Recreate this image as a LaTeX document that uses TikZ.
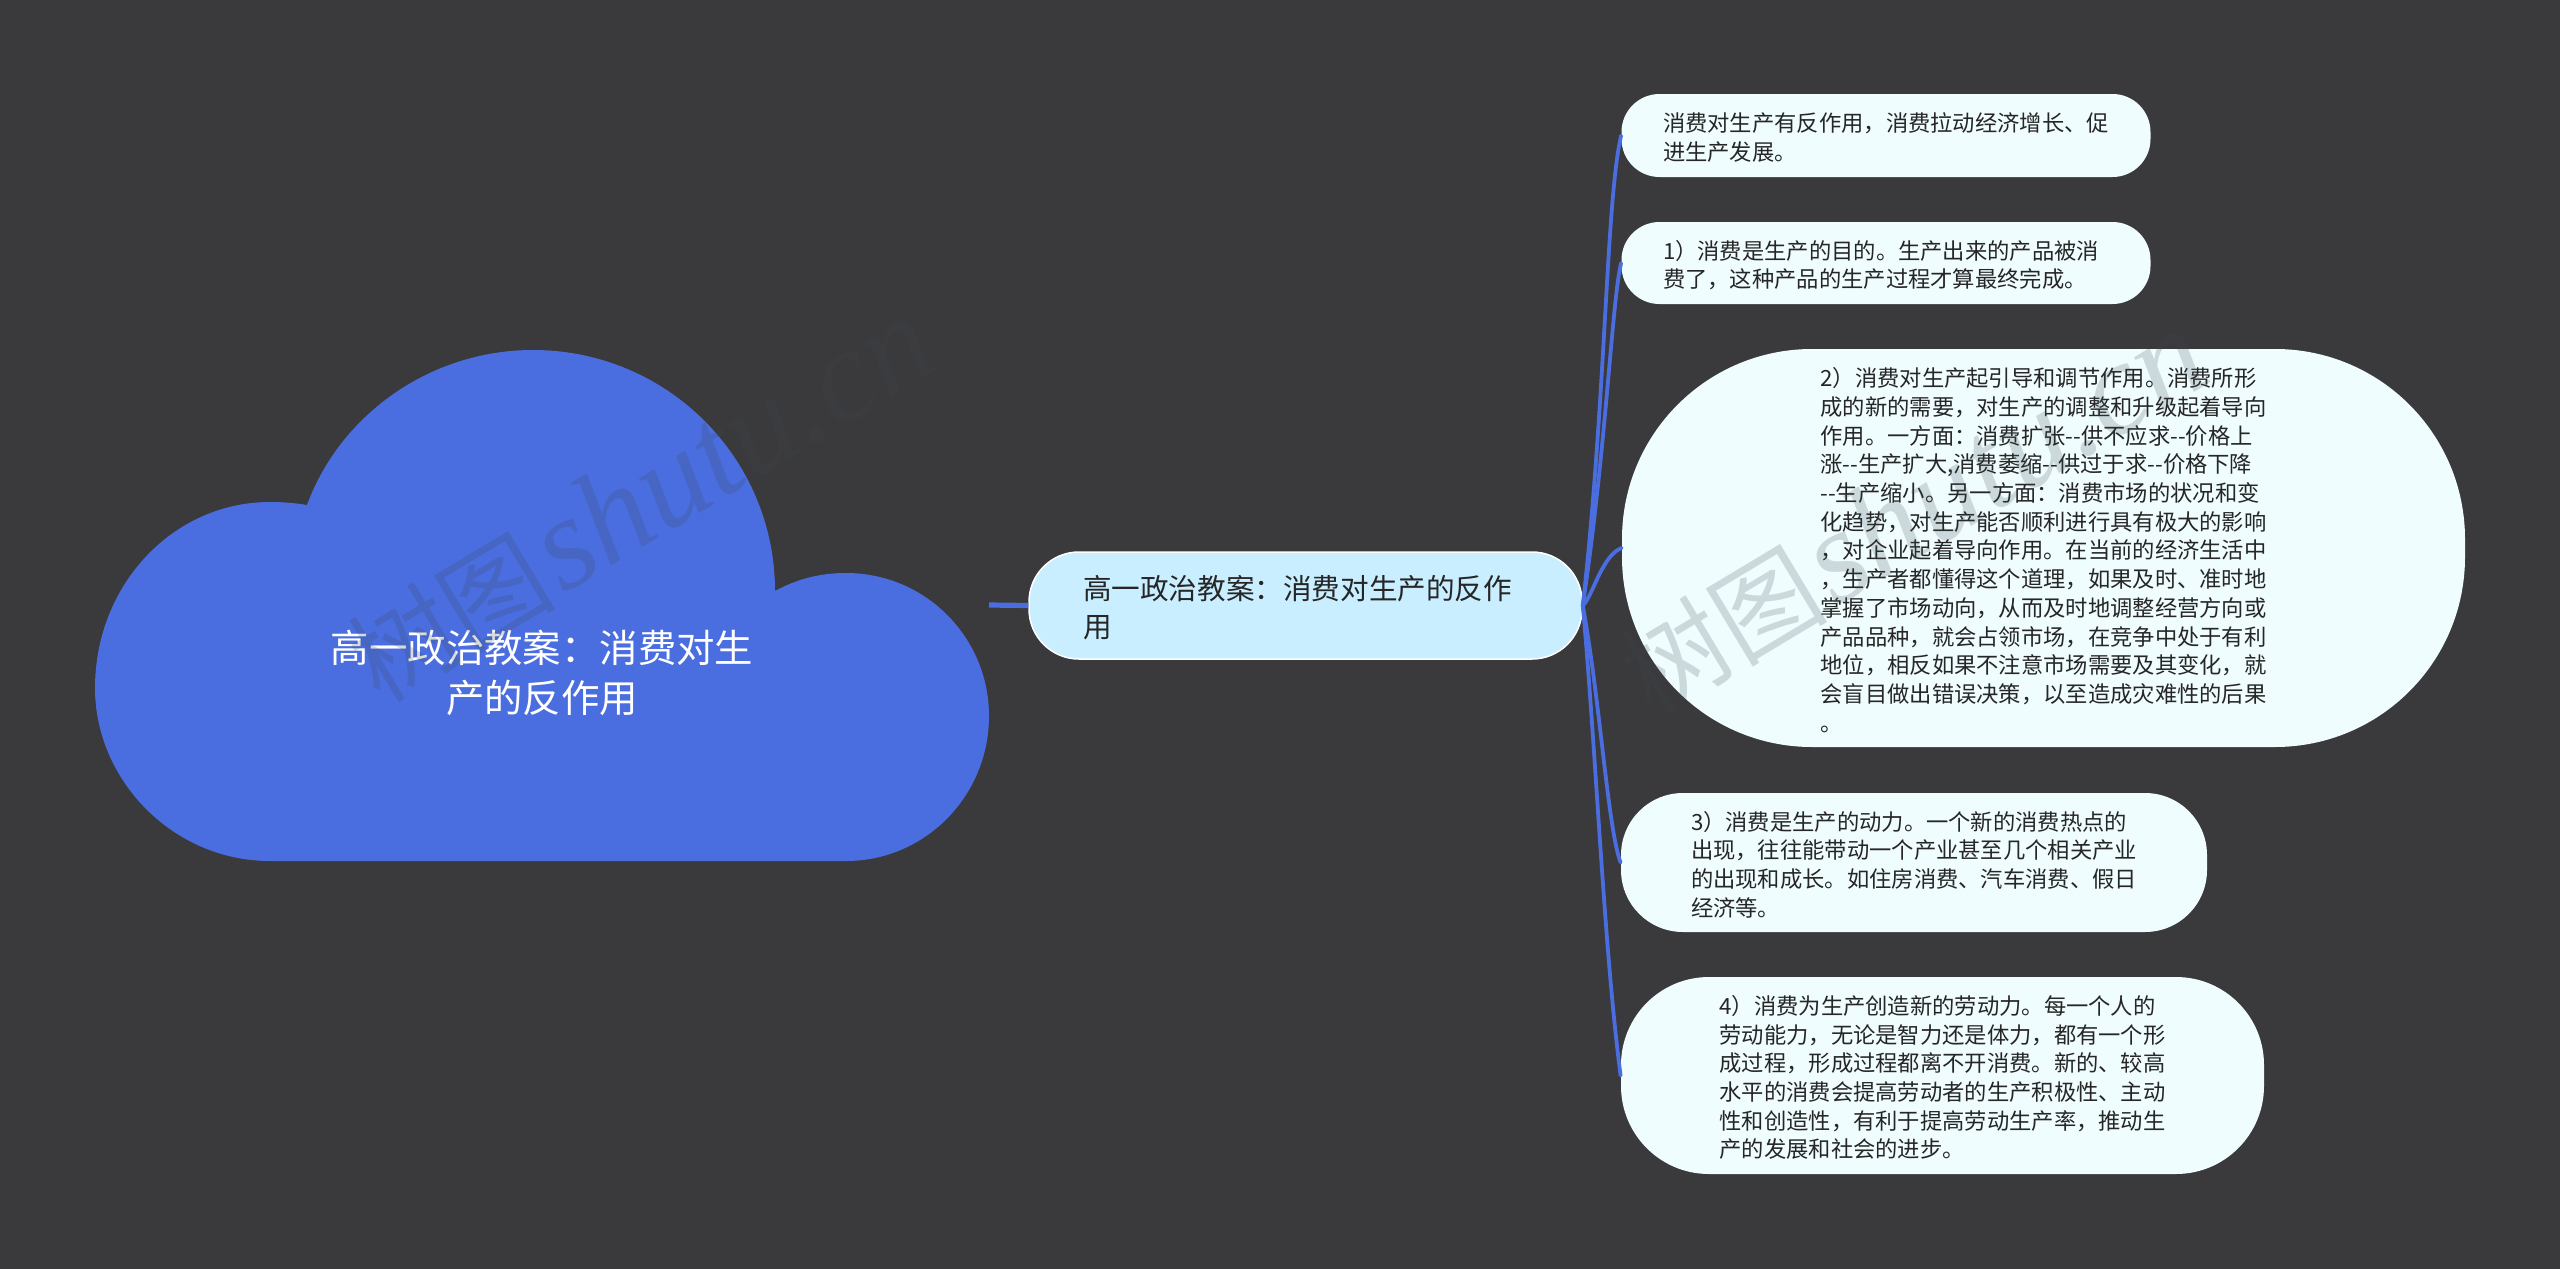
\documentclass[tikz,border=0pt]{standalone}
\usepackage{fontspec}
\newfontfamily\cjk{Noto Sans CJK SC}
\newfontfamily\wmlatin{Liberation Serif}
\definecolor{bgc}{HTML}{3A393B}
\definecolor{cloudc}{HTML}{4A6EE0}
\definecolor{midc}{HTML}{C8EEFF}
\definecolor{leafc}{HTML}{F0FDFF}
\definecolor{inkc}{HTML}{262626}
\definecolor{wmc}{HTML}{3C4A50}
\tikzset{
  midbox/.style={shape=rectangle,fill=midc,draw=white,line width=0.75pt,rounded corners=25pt,inner sep=0pt,
    minimum width=276.5pt,minimum height=53.5pt,text=inkc,align=left,text width=222.5pt,
    font=\cjk\fontsize{14.3pt}{19pt}\selectfont,execute at begin node={\rule{0pt}{14.2pt}}},
  leafbox/.style={shape=rectangle,fill=leafc,inner sep=0pt,text=inkc,align=left,text width=223pt,
    font=\cjk\fontsize{11.15pt}{14.35pt}\selectfont,execute at begin node={\rule{0pt}{11.6pt}}},
  roottext/.style={text=white,align=center,font=\cjk\fontsize{19.2pt}{25pt}\selectfont},
  link/.style={draw=cloudc,line width=1.9pt,line cap=round},
  rootlink/.style={draw=cloudc,line width=2.6pt},
  wmark/.style={text=wmc,opacity=0.2,rotate=31,anchor=base west,inner sep=0pt,font=\fontsize{66pt}{66pt}\selectfont}
}
\newcommand{\wmtext}{{\cjk\fontsize{52pt}{60pt}\selectfont 树图}\hspace{3pt}{\wmlatin\itshape shutu.cn}}
\begin{document}
\begin{tikzpicture}[x=0.5pt,y=-0.5pt]
\useasboundingbox (0,0) rectangle (2560,1269);
\fill[bgc] (0,0) rectangle (2560,1269);
% cloud
\fill[cloudc] (270,861) .. controls (173,861) and (95,780) .. (95,688)
  .. controls (95,585) and (173,502) .. (270,502)
  .. controls (283,502) and (295,503) .. (307,505)
  .. controls (340,415) and (430,350) .. (533,350)
  .. controls (667,350) and (775,458) .. (775,591)
  .. controls (797,579) and (820,573) .. (846,573)
  .. controls (925,573) and (989,637) .. (989,716)
  .. controls (989,796) and (925,861) .. (846,861) -- cycle;
\coordinate (cloudedge) at (989,605);
\node[roottext] (root) at (542,672.5) {高一政治教案：消费对生\\产的反作用};
% central
\node[midbox] (mid) at (1305.5,605.5) {高一政治教案：消费对生产的反作\\用};
% leaves
\node[leafbox,rounded corners=19pt,minimum width=264.5pt,minimum height=41.5pt] (a) at (1886,135.5)
 {消费对生产有反作用，消费拉动经济增长、促\\进生产发展。};
\node[leafbox,rounded corners=19pt,minimum width=264.5pt,minimum height=41pt] (b) at (1886,263)
 {1）消费是生产的目的。生产出来的产品被消\\费了，这种产品的生产过程才算最终完成。};
\node[leafbox,rounded corners=95pt,minimum width=421.5pt,minimum height=199pt] (c) at (2043.5,548)
 {2）消费对生产起引导和调节作用。消费所形\\成的新的需要，对生产的调整和升级起着导向\\作用。一方面：消费扩张--供不应求--价格上\\涨--生产扩大,消费萎缩--供过于求--价格下降\\--生产缩小。另一方面：消费市场的状况和变\\化趋势，对生产能否顺利进行具有极大的影响\\，对企业起着导向作用。在当前的经济生活中\\，生产者都懂得这个道理，如果及时、准时地\\掌握了市场动向，从而及时地调整经营方向或\\产品品种，就会占领市场，在竞争中处于有利\\地位，相反如果不注意市场需要及其变化，就\\会盲目做出错误决策，以至造成灾难性的后果\\。};
\node[leafbox,rounded corners=31pt,minimum width=293pt,minimum height=69.5pt] (d) at (1914,862.5)
 {3）消费是生产的动力。一个新的消费热点的\\出现，往往能带动一个产业甚至几个相关产业\\的出现和成长。如住房消费、汽车消费、假日\\经济等。};
\node[leafbox,rounded corners=44pt,minimum width=321.5pt,minimum height=98.5pt] (e) at (1942.5,1075.5)
 {4）消费为生产创造新的劳动力。每一个人的\\劳动能力，无论是智力还是体力，都有一个形\\成过程，形成过程都离不开消费。新的、较高\\水平的消费会提高劳动者的生产积极性、主动\\性和创造性，有利于提高劳动生产率，推动生\\产的发展和社会的进步。};
% connectors
\draw[rootlink] (cloudedge) -- (mid.west);
\draw[link] (mid.east) .. controls (1606,400) and (1606,200) .. (a.west);
\draw[link] (mid.east) .. controls (1606,450) and (1612,300) .. (b.west);
\draw[link] (mid.east) .. controls (1592,598) and (1602,555) .. (c.west);
\draw[link] (mid.east) .. controls (1600,700) and (1608,830) .. (d.west);
\draw[link] (mid.east) .. controls (1596,750) and (1604,950) .. (e.west);
% watermarks
\node[wmark] (wma) at (380,705) {\wmtext};
\node[wmark] (wmb) at (1652,718) {\wmtext};
\end{tikzpicture}
\end{document}
